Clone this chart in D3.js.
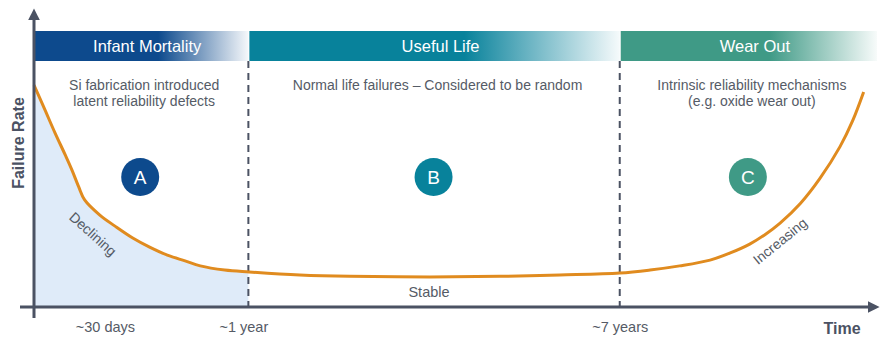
<!DOCTYPE html>
<html>
<head>
<meta charset="utf-8">
<script src="https://cdn.jsdelivr.net/npm/d3@7"></script>
<style>
  body { margin: 0; background: #fff; }
  text { font-family: "Liberation Sans", Arial, sans-serif; }
</style>
</head>
<body>
<svg id="chart"></svg>
<script>
// bathtub curve, time in arbitrary units 0..100, rate 0..100
var curveTime = [0, 1.3, 2.5, 3.7, 4.5, 5.3, 6.0, 7.8, 9.6, 11.7, 13.7, 15.8, 17.9, 19.7, 22.6, 25.5, 31.5, 37.4, 46.9, 55.2, 62.3, 69.4, 73.0, 76.5, 80.1, 82.5, 84.8, 86.6, 88.4, 90.8, 93.1, 95.5, 97.0, 98.3];
var curveRate = [80.4, 71.4, 63.0, 55.1, 49.6, 43.5, 38.8, 33.3, 29.3, 25.0, 21.7, 18.8, 16.7, 14.9, 13.4, 12.7, 11.6, 11.1, 10.9, 11.1, 11.6, 12.3, 13.4, 14.9, 17.0, 19.6, 22.8, 26.2, 30.4, 37.5, 46.5, 58.1, 67.5, 77.9];

var phaseNames = ["Infant Mortality", "Useful Life", "Wear Out"];
var phaseStart = [0, 25.4, 69.4];
var phaseEnd = [25.4, 69.4, 100];
var phaseColors = ["#0d4a8d", "#08829b", "#3f9a86"];
var phaseLetters = ["A", "B", "C"];
var phaseNotes = [
    ["Si fabrication introduced", "latent reliability defects"],
    ["Normal life failures \u2013 Considered to be random"],
    ["Intrinsic reliability mechanisms", "(e.g. oxide wear out)"]
];

var tickValues = [8.4, 25.4, 69.4];
var tickLabels = ["~30 days", "~1 year", "~7 years"];

var dimensions = {
    width: 889,
    height: 354,
    margin: { top: 31, right: 11, bottom: 47, left: 34 }
};

var data = curveTime.map((t, i) => ({ t: t, r: curveRate[i] }));

var svg = d3.select("#chart")
            .attr("width", dimensions.width)
            .attr("height", dimensions.height);

var xScale = d3.scaleLinear()
            .domain([0, 100])
            .range([dimensions.margin.left, dimensions.width - dimensions.margin.right]);

var yScale = d3.scaleLinear()
            .domain([0, 100])
            .range([dimensions.height - dimensions.margin.bottom, dimensions.margin.top]);

var axisColor = "#4b5263";
var textColor = "#555b66";

var defs = svg.append("defs");

defs.append("marker")
    .attr("id", "arrow")
    .attr("viewBox", "0 0 10 10")
    .attr("refX", 2)
    .attr("refY", 5)
    .attr("markerWidth", 4)
    .attr("markerHeight", 4)
    .attr("orient", "auto")
    .append("path")
    .attr("d", "M0,0L10,5L0,10z")
    .attr("fill", axisColor);

phaseColors.forEach(function(c, i) {
    var g = defs.append("linearGradient").attr("id", "band" + i);
    g.append("stop").attr("offset", "0%").attr("stop-color", c).attr("stop-opacity", 1);
    g.append("stop").attr("offset", "58%").attr("stop-color", c).attr("stop-opacity", 1);
    g.append("stop").attr("offset", "100%").attr("stop-color", c).attr("stop-opacity", 0.04);
});

defs.append("clipPath")
    .attr("id", "infantClip")
    .append("rect")
    .attr("x", xScale(phaseStart[0]))
    .attr("y", 0)
    .attr("width", xScale(phaseEnd[0]) - xScale(phaseStart[0]))
    .attr("height", dimensions.height);

var smooth = d3.curveCatmullRom.alpha(0.5);

// shaded area under the declining part
var area = d3.area()
    .x(d => xScale(d.t))
    .y0(yScale(0))
    .y1(d => yScale(d.r))
    .curve(smooth);

svg.append("path")
    .datum(data)
    .attr("d", area)
    .attr("fill", "#dfebf9")
    .attr("clip-path", "url(#infantClip)");

// phase banners
var bandTop = 31, bandH = 30;
phaseNames.forEach(function(name, i) {
    var x0 = xScale(phaseStart[i]) + (i > 0 ? 1 : 0);
    var x1 = xScale(phaseEnd[i]) - (i == 2 ? 1 : 0);
    svg.append("rect")
        .attr("x", x0)
        .attr("y", bandTop)
        .attr("width", x1 - x0)
        .attr("height", bandH)
        .attr("fill", "url(#band" + i + ")");

    svg.append("text")
        .attr("x", (x0 + x1) / 2 + 6)
        .attr("y", bandTop + bandH / 2)
        .attr("dy", "0.35em")
        .attr("text-anchor", "middle")
        .attr("fill", "#fff")
        .style("font-size", "16.5px")
        .text(name);

    var mid = (x0 + x1) / 2 + 3;
    phaseNotes[i].forEach(function(line, j) {
        svg.append("text")
            .attr("x", mid)
            .attr("y", 85 + j * 16.5)
            .attr("dy", "0.35em")
            .attr("text-anchor", "middle")
            .attr("fill", textColor)
            .style("font-size", "14px")
            .text(line);
    });

    svg.append("circle")
        .attr("cx", mid - 4)
        .attr("cy", 177)
        .attr("r", 19)
        .attr("fill", phaseColors[i]);

    svg.append("text")
        .attr("x", mid - 4)
        .attr("y", 177)
        .attr("dy", "0.36em")
        .attr("text-anchor", "middle")
        .attr("fill", "#fff")
        .style("font-size", "19px")
        .text(phaseLetters[i]);
});

// dashed phase boundaries
[phaseEnd[0], phaseEnd[1]].forEach(function(t) {
    svg.append("line")
        .attr("x1", xScale(t))
        .attr("x2", xScale(t))
        .attr("y1", bandTop + bandH)
        .attr("y2", yScale(0))
        .attr("stroke", axisColor)
        .attr("stroke-width", 2)
        .attr("stroke-dasharray", "7,5");
});

// the bathtub curve
var line = d3.line()
    .x(d => xScale(d.t))
    .y(d => yScale(d.r))
    .curve(smooth);

svg.append("path")
    .datum(data)
    .attr("d", line)
    .attr("fill", "none")
    .attr("stroke", "#e08b1f")
    .attr("stroke-width", 3);

// axes
svg.append("line")
    .attr("x1", 20)
    .attr("x2", xScale(100) - 8)
    .attr("y1", yScale(0))
    .attr("y2", yScale(0))
    .attr("stroke", axisColor)
    .attr("stroke-width", 3)
    .attr("marker-end", "url(#arrow)");

svg.append("line")
    .attr("x1", xScale(0))
    .attr("x2", xScale(0))
    .attr("y1", 318)
    .attr("y2", 18)
    .attr("stroke", axisColor)
    .attr("stroke-width", 3)
    .attr("marker-end", "url(#arrow)");

var xAxis = svg.append("g")
    .attr("transform", `translate(0,${yScale(0) + 12})`)
    .call(d3.axisBottom(xScale)
        .tickValues(tickValues)
        .tickSize(0)
        .tickFormat((d, i) => tickLabels[i]));
xAxis.select(".domain").remove();
xAxis.selectAll("text")
    .attr("fill", textColor)
    .style("font-size", "14.5px")
    .style("font-family", "Liberation Sans, Arial, sans-serif");
xAxis.selectAll(".tick").filter((d, i) => i == 1)
    .select("text").attr("dx", "-5");

svg.append("text")
    .attr("x", 842)
    .attr("y", 328)
    .attr("dy", "0.35em")
    .attr("text-anchor", "middle")
    .attr("fill", axisColor)
    .style("font-size", "16px")
    .style("font-weight", "bold")
    .text("Time");

svg.append("text")
    .attr("transform", "translate(18,143)rotate(-90)")
    .attr("dy", "0.35em")
    .attr("text-anchor", "middle")
    .attr("fill", axisColor)
    .style("font-size", "16px")
    .style("font-weight", "bold")
    .text("Failure Rate");

// curve annotations
svg.append("text")
    .attr("transform", "translate(93,234)rotate(42)")
    .attr("dy", "0.35em")
    .attr("text-anchor", "middle")
    .attr("fill", textColor)
    .style("font-size", "14px")
    .text("Declining");

svg.append("text")
    .attr("transform", "translate(780,241)rotate(-39)")
    .attr("dy", "0.35em")
    .attr("text-anchor", "middle")
    .attr("fill", textColor)
    .style("font-size", "14px")
    .text("Increasing");

svg.append("text")
    .attr("x", 429)
    .attr("y", 292)
    .attr("dy", "0.35em")
    .attr("text-anchor", "middle")
    .attr("fill", textColor)
    .style("font-size", "14.5px")
    .text("Stable");
</script>
</body>
</html>
